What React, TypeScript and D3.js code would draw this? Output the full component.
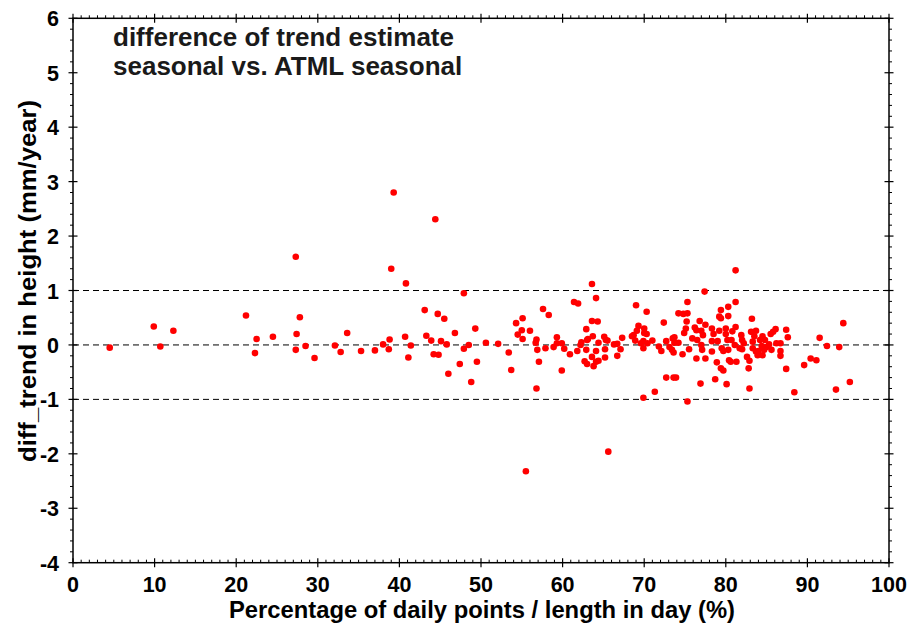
import React from "react";
import * as d3 from "d3";

const titleLines = ["difference of trend estimate", "seasonal vs. ATML seasonal"];
const xLabel = "Percentage of daily points / length in day (%)";
const yLabel = "diff_trend in height (mm/year)";
const xTicks = [0, 10, 20, 30, 40, 50, 60, 70, 80, 90, 100];
const yTicks = [-4, -3, -2, -1, 0, 1, 2, 3, 4, 5, 6];
const refLines = [1, 0, -1];

const pctX = [
  4.5, 9.9, 10.7, 12.3, 21.2, 22.5, 22.3, 24.5, 27.3, 27.8, 27.4, 27.3, 28.5,
  29.6, 32.1, 32.8, 33.6, 35.3, 37.0, 38.0, 38.8, 38.7, 39.3, 39.0, 40.8, 40.7,
  41.4, 41.1, 44.4, 43.1, 43.3, 43.9, 44.2, 44.8, 44.7, 45.5, 45.1, 45.8, 46.0,
  46.8, 47.9, 47.4, 47.9, 48.5, 49.3, 48.8, 49.5, 50.6, 52.1, 53.4, 53.7,
  54.3, 54.5, 55.1, 55.0, 55.1, 56.0, 55.5, 56.8, 56.7, 56.9, 57.1, 56.8, 57.6,
  57.9, 58.3, 58.9, 59.3, 59.3, 59.9, 60.2, 59.9, 60.9, 61.4, 61.9, 61.8, 62.3,
  62.2, 62.9, 63.0, 62.9, 63.1, 63.6, 63.6, 63.7, 63.6, 62.7, 63.0, 63.8, 64.1,
  64.1, 64.1, 64.3, 64.4, 64.4, 65.1, 65.3, 65.5, 65.2, 65.2, 65.6, 66.3, 66.7,
  66.7, 67.1, 67.3, 68.5, 68.7, 69.0, 69.3, 69.1, 68.9, 69.9, 69.6, 69.9, 70.0,
  70.0, 70.3, 70.4, 70.3, 69.9, 71.0, 71.3, 71.8, 72.1, 72.4, 72.7, 72.7,
  73.1, 73.5, 73.7, 73.7, 74.2, 73.4, 73.6, 73.6, 73.9, 74.2, 74.8, 75.3, 75.3,
  75.2, 75.1, 74.9, 74.7, 75.5, 75.3, 75.9, 76.2, 76.4, 76.4, 76.5, 76.8, 76.9,
  77.0, 77.2, 77.0, 77.1, 77.4, 77.5, 77.5, 78.3, 78.3, 78.5, 78.3, 78.7, 78.9,
  79.2, 79.2, 79.4, 79.4, 79.0, 79.4, 79.7, 79.5, 79.7, 80.0, 80.0, 80.2, 80.1,
  80.3, 80.3, 80.3, 80.4, 80.6, 80.7, 80.8, 81.2, 81.2, 81.2, 81.1, 81.3, 81.7,
  81.9, 82.0, 82.2, 82.0, 82.6, 82.8, 82.9, 83.2, 83.1, 82.9, 83.3, 83.3, 83.5,
  83.7, 83.7, 83.9, 84.0, 84.2, 84.5, 84.4, 84.5, 84.8, 84.7, 85.0, 85.3, 85.5,
  85.8, 86.1, 85.6, 86.2, 86.7, 86.7, 86.7, 87.4, 87.6, 87.4, 88.4, 89.6, 90.4,
  91.1, 91.5, 92.4, 93.5, 93.9, 94.4, 95.2,
];

const diffTrend = [
  -0.05, 0.34, -0.03, 0.26, 0.54, 0.11, -0.15, 0.15, 1.62, 0.51, 0.2, -0.09, -0.02,
  -0.24, -0.01, -0.13, 0.22, -0.11, -0.1, 0.01, 0.1, -0.08, 2.8, 1.4, 1.13, 0.15,
  -0.01, -0.23, 2.31, 0.64, 0.17, 0.08, -0.17, -0.18, 0.57, 0.48, 0.07, 0.01, -0.53,
  0.22, 0.95, -0.35, -0.07, 0.0, 0.3, -0.68, -0.31, 0.04, 0.02, -0.14, -0.46,
  0.4, 0.19, 0.49, 0.27, 0.11, 0.26, -2.32, 0.1, 0.04, -0.09, -0.31, -0.8, 0.66,
  -0.06, 0.55, -0.04, 0.14, 0.03, 0.03, -0.07, -0.47, -0.17, 0.79, 0.76, -0.11, 0.05,
  0.0, 0.29, 0.09, -0.09, 0.11, 1.12, 0.44, 0.16, -0.22, -0.3, -0.35, -0.39, -0.31,
  -0.11, 0.86, 0.43, 0.04, -0.29, 0.15, 0.09, 0.08, -0.08, -0.23, -1.96, 0.01, 0.02,
  -0.2, -0.08, 0.13, 0.16, 0.18, 0.73, 0.35, 0.26, 0.08, 0.07, 0.03, -0.06, 0.3,
  0.22, 0.2, 0.03, 0.61, -0.97, 0.08, -0.86, -0.03, -0.11, 0.41, 0.07, -0.6,
  -0.04, 0.12, 0.14, 0.04, 0.04, -0.09, -0.14, -0.6, -0.6, 0.58, 0.57, 0.58, 0.79,
  0.43, 0.3, 0.22, -0.17, -0.08, -1.04, 0.12, 0.32, -0.25, 0.27, 0.09, 0.44, -0.71,
  0.26, 0.18, 0.0, -0.09, 0.98, 0.37, -0.25, 0.3, 0.07, 0.2, -0.12, -0.63, -0.32,
  0.26, 0.52, 0.64, 0.49, 0.07, -0.43, -0.47, -0.06, -0.11, 0.3, 0.2, 0.09, -0.72,
  0.53, 0.7, -0.09, -0.28, -0.31, 0.09, 0.25, 1.37, 0.79, 0.33, 0.0, -0.31, -0.06,
  0.18, 0.09, 0.03, -0.08, -0.22, -0.43, -0.29, 0.48, 0.24, -0.8, 0.06, -0.06, 0.16,
  0.26, -0.12, -0.19, -0.11, 0.09, 0.16, -0.02, -0.19, 0.09, -0.09, -0.04, 0.01, 0.2,
  0.24, 0.29, -0.09, 0.03, 0.03, -0.11, -0.2, 0.28, 0.14, -0.44, -0.87, -0.37, -0.25,
  -0.28, 0.13, -0.02, -0.82, -0.04, 0.4, -0.68,
];

const W = 914;
const H = 627;
const L = 73;
const R = 889;
const T = 18.3;
const B = 562.7;
const FONT = "'Liberation Sans', Arial, Helvetica, sans-serif";

export default function App() {
  const x = d3.scaleLinear().domain([0, 100]).range([L, R]);
  const y = d3.scaleLinear().domain([-4, 6]).range([B, T]);
  const xMinor = d3.range(0, 101, 1).filter((v) => v % 10 !== 0);
  const yMinor = d3.range(-4, 6.001, 0.2).filter((v) => Math.abs(v - Math.round(v)) > 0.01);
  const pts = pctX.map((v, i) => [v, diffTrend[i]] as [number, number]);

  return (
    <svg
      width={W}
      height={H}
      style={{ position: "absolute", left: 0, top: 0, background: "#fff" }}
      fontFamily={FONT}
    >
      <rect x={0} y={0} width={W} height={H} fill="#fff" />
      {refLines.map((v) => (
        <line
          key={"r" + v}
          x1={L}
          x2={R}
          y1={y(v)}
          y2={y(v)}
          stroke="#000"
          strokeWidth={1}
          strokeDasharray="6,4"
        />
      ))}
      {pts.map(([a, b], i) => (
        <circle key={i} cx={x(a)} cy={y(b)} r={3.3} fill="#ff0000" />
      ))}
      <rect x={L} y={T} width={R - L} height={B - T} fill="none" stroke="#000" strokeWidth={1.5} />
      {xMinor.map((v) => (
        <g key={"xm" + v}>
          <line x1={x(v)} x2={x(v)} y1={B} y2={B - 3} stroke="#000" strokeWidth={1} />
          <line x1={x(v)} x2={x(v)} y1={T} y2={T - 3} stroke="#000" strokeWidth={1} />
        </g>
      ))}
      {xTicks.map((v) => (
        <g key={"xM" + v}>
          <line x1={x(v)} x2={x(v)} y1={B - 4.5} y2={B + 4.5} stroke="#000" strokeWidth={1.2} />
          <line x1={x(v)} x2={x(v)} y1={T - 4.5} y2={T + 4.5} stroke="#000" strokeWidth={1.2} />
          <text
            x={x(v)}
            y={592}
            textAnchor="middle"
            fontSize={21.5}
            fontWeight="bold"
            fill="#000"
          >
            {v}
          </text>
        </g>
      ))}
      {yMinor.map((v) => (
        <g key={"ym" + v.toFixed(1)}>
          <line x1={L} x2={L - 3} y1={y(v)} y2={y(v)} stroke="#000" strokeWidth={1} />
          <line x1={R} x2={R + 3} y1={y(v)} y2={y(v)} stroke="#000" strokeWidth={1} />
        </g>
      ))}
      {yTicks.map((v) => (
        <g key={"yM" + v}>
          <line x1={L - 4.5} x2={L + 4.5} y1={y(v)} y2={y(v)} stroke="#000" strokeWidth={1.2} />
          <line x1={R - 4.5} x2={R + 4.5} y1={y(v)} y2={y(v)} stroke="#000" strokeWidth={1.2} />
          <text
            x={59}
            y={y(v) + 8}
            textAnchor="end"
            fontSize={21.5}
            fontWeight="bold"
            fill="#000"
          >
            {v}
          </text>
        </g>
      ))}
      {titleLines.map((t, i) => (
        <text
          key={"t" + i}
          x={113}
          y={46 + i * 28.5}
          fontSize={26}
          fontWeight="bold"
          fill="#1a1a1a"
        >
          {t}
        </text>
      ))}
      <text
        x={482}
        y={618}
        textAnchor="middle"
        fontSize={23}
        fontWeight="bold"
        fill="#000"
        textLength={506}
        lengthAdjust="spacingAndGlyphs"
      >
        {xLabel}
      </text>
      <text
        transform={`translate(36, 281) rotate(-90)`}
        textAnchor="middle"
        fontSize={23.5}
        fontWeight="bold"
        fill="#000"
        textLength={362}
        lengthAdjust="spacingAndGlyphs"
      >
        {yLabel}
      </text>
    </svg>
  );
}
